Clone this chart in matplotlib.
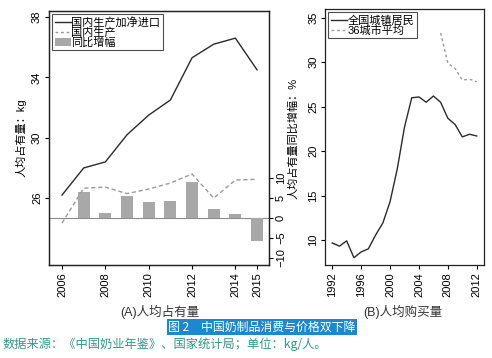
import numpy as np
import matplotlib.pyplot as plt
from matplotlib.patches import Patch
from matplotlib.lines import Line2D

plt.rcParams['font.family'] = ['Liberation Sans', 'Noto Sans CJK SC', 'DejaVu Sans']

# panel A: per-capita holdings, kg
years_a = [2006, 2007, 2008, 2009, 2010, 2011, 2012, 2013, 2014, 2015]
total_supply = [26.2, 28.0, 28.4, 30.2, 31.5, 32.5, 35.3, 36.2, 36.6, 34.5]
domestic = [24.35, 26.66, 26.73, 26.3, 26.6, 27.0, 27.6, 26.0, 27.2, 27.25]
growth_years = [2007, 2008, 2009, 2010, 2011, 2012, 2013, 2014, 2015]
growth = [6.5, 1.3, 5.5, 4.0, 4.2, 9.0, 2.3, 1.1, -5.7]
xticks_a = [2006, 2008, 2010, 2012, 2014, 2015]

# panel B: per-capita purchases, kg
years_b = list(range(1992, 2013))
urban = [9.66, 9.3, 9.9, 8.0, 8.65, 9.0, 10.55, 11.9, 14.3, 18.0, 22.7,
         26.0, 26.1, 25.5, 26.2, 25.5, 23.7, 23.0, 21.6, 21.9, 21.7]
years_36 = [2007, 2008, 2009, 2010, 2011, 2012]
city36 = [33.3, 29.9, 29.3, 28.0, 28.1, 27.8]
xticks_b = [1992, 1996, 2000, 2004, 2008, 2012]

fs = 8
line_c = '#2b2b2b'
dash_c = '#9a9a9a'
bar_c = '#a8a8a8'

fig = plt.figure(figsize=(4.92, 3.58), dpi=100)
axA = fig.add_axes([0.0996, 0.2598, 0.4471, 0.7095])
axB = fig.add_axes([0.6606, 0.2598, 0.3231, 0.7151])

# --- panel A ---
axA.plot(years_a, total_supply, color=line_c, lw=1.0, zorder=3)
axA.plot(years_a, domestic, color=dash_c, lw=1.0, ls=(0, (3, 2)), zorder=3)
axA.set_xlim(2005.4, 2015.55)
axA.set_ylim(21.57, 38.4)
axA.set_yticks([26, 30, 34, 38])
axA.set_xticks(xticks_a)
axA.tick_params(axis='x', labelrotation=90, labelsize=fs, length=3, pad=2)
axA.tick_params(axis='y', labelrotation=90, labelsize=fs, length=3, pad=2)
for t in axA.get_yticklabels():
    t.set_va('center')
axA.set_ylabel('人均占有量：kg', fontsize=fs, labelpad=4)

axA2 = axA.twinx()
axA2.bar(growth_years, growth, width=0.55, color=bar_c, zorder=2)
axA2.axhline(0, color='#8c8c8c', lw=0.8, zorder=1)
axA2.set_ylim(-11.75, 51.75)
axA2.set_yticks([-10, -5, 0, 5, 10])
axA2.tick_params(axis='y', labelrotation=90, labelsize=fs, length=3, pad=2)
for t in axA2.get_yticklabels():
    t.set_va('center')
axA2.set_ylabel('人均占有量同比增幅：%', fontsize=fs, labelpad=1)
axA.set_zorder(axA2.get_zorder() + 1)
axA.patch.set_visible(False)

leg_kw = dict(loc='upper left', fontsize=8, frameon=True, fancybox=False,
              edgecolor='#222222', handlelength=1.4, handletextpad=0.05,
              borderpad=0.25, labelspacing=-0.05, borderaxespad=0.3)

handles_a = [Line2D([], [], color=line_c, lw=1.0),
             Line2D([], [], color=dash_c, lw=1.0, ls=(0, (2, 2))),
             Patch(facecolor=bar_c, edgecolor='none')]
legA = axA.legend(handles_a, ['国内生产加净进口', '国内生产', '同比增幅'], **leg_kw)
legA.get_frame().set_linewidth(0.8)

# --- panel B ---
axB.plot(years_b, urban, color=line_c, lw=1.0)
axB.plot(years_36, city36, color=dash_c, lw=1.0, ls=(0, (2, 2)))
axB.set_xlim(1991.0, 2013.0)
axB.set_ylim(7.18, 36.0)
axB.set_yticks([10, 15, 20, 25, 30, 35])
axB.set_xticks(xticks_b)
axB.tick_params(axis='x', labelrotation=90, labelsize=fs, length=3, pad=2)
axB.tick_params(axis='y', labelrotation=90, labelsize=fs, length=3, pad=2)
for t in axB.get_yticklabels():
    t.set_va('center')

handles_b = [Line2D([], [], color=line_c, lw=1.0),
             Line2D([], [], color=dash_c, lw=1.0, ls=(0, (2, 2)))]
legB = axB.legend(handles_b, ['全国城镇居民', '36城市平均'], **leg_kw)
legB.get_frame().set_linewidth(0.8)

for ax in (axA, axA2, axB):
    for s in ax.spines.values():
        s.set_linewidth(0.9)
        s.set_color('#222222')

# captions
fig.text(160 / 492, 1 - 312 / 358, '(A)人均占有量', fontsize=9, ha='center', va='center', color='#333333')
fig.text(403 / 492, 1 - 312 / 358, '(B)人均购买量', fontsize=9, ha='center', va='center', color='#333333')
fig.text(262 / 492, 1 - 327 / 358, '图 2　中国奶制品消费与价格双下降', fontsize=8.6, ha='center', va='center',
         color='white', family=['Noto Sans CJK SC', 'DejaVu Sans'],
         bbox=dict(facecolor='#1b88d0', edgecolor='none', pad=1.2))
fig.text(3 / 492, 1 - 344 / 358, '数据来源：《中国奶业年鉴》、国家统计局；单位：kg/人。', fontsize=8.8,
         ha='left', va='center', color='#2f9a8a', family=['Noto Sans CJK SC', 'DejaVu Sans'])

fig.savefig('out.png', dpi=100)
